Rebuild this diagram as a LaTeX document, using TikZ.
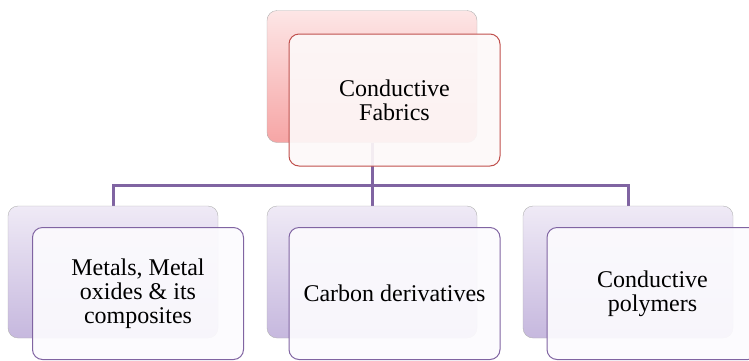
\documentclass[tikz,border=0pt]{standalone}
\usepackage{fontspec}
\setmainfont{Liberation Serif}
\usetikzlibrary{backgrounds}
\definecolor{fabricred}{RGB}{192,80,77}
\definecolor{pinktop}{RGB}{253,230,230}
\definecolor{pinkbot}{RGB}{246,165,165}
\definecolor{lilac}{RGB}{128,100,162}
\definecolor{liltop}{RGB}{239,234,246}
\definecolor{lilbot}{RGB}{198,184,222}
\tikzset{
  backbox/.style={draw=black!30, rounded corners=10pt, minimum width=210pt,
    minimum height=132pt, inner sep=0pt},
  frontbox/.style={rounded corners=10pt, line width=1pt, minimum width=211pt,
    minimum height=132pt, inner sep=0pt, align=center,
    font=\fontsize{24}{24}\selectfont, fill opacity=0.92, text opacity=1},
  link/.style={draw=lilac, line width=3pt}
}
\begin{document}
\begin{tikzpicture}[x=1pt,y=-1pt]
  \useasboundingbox (0,0) rectangle (749,360);
  % top
  \node[backbox, top color=pinktop, bottom color=pinkbot] (rootback) at (372,76.5) {};
  \node[frontbox, draw=fabricred, fill={rgb,255:red,253;green,248;blue,248}] (root) at (394.5,100) {Conductive\\Fabrics};
  % bottom row
  \node[backbox, top color=liltop, bottom color=lilbot] (metalback) at (113,272) {};
  \node[frontbox, draw=lilac, fill={rgb,255:red,252;green,251;blue,254}] (metal) at (138,293.5) {Metals, Metal\\oxides \& its\\composites};
  \node[backbox, top color=liltop, bottom color=lilbot] (carbonback) at (372,272) {};
  \node[frontbox, draw=lilac, fill={rgb,255:red,252;green,251;blue,254}] (carbon) at (394.5,293.5) {Carbon derivatives};
  \node[backbox, top color=liltop, bottom color=lilbot] (polyback) at (628,272) {};
  \node[frontbox, draw=lilac, fill={rgb,255:red,252;green,251;blue,254}] (poly) at (652.5,293.5) {Conductive\\polymers};
  % connectors
  \coordinate (hub) at (372,185);
  \begin{scope}[on background layer]
    \draw[link] (rootback.south) -- (hub);
    \draw[link] (metalback.north) |- (hub) -| (polyback.north);
    \draw[link] (hub) -- (carbonback.north);
  \end{scope}
\end{tikzpicture}
\end{document}
